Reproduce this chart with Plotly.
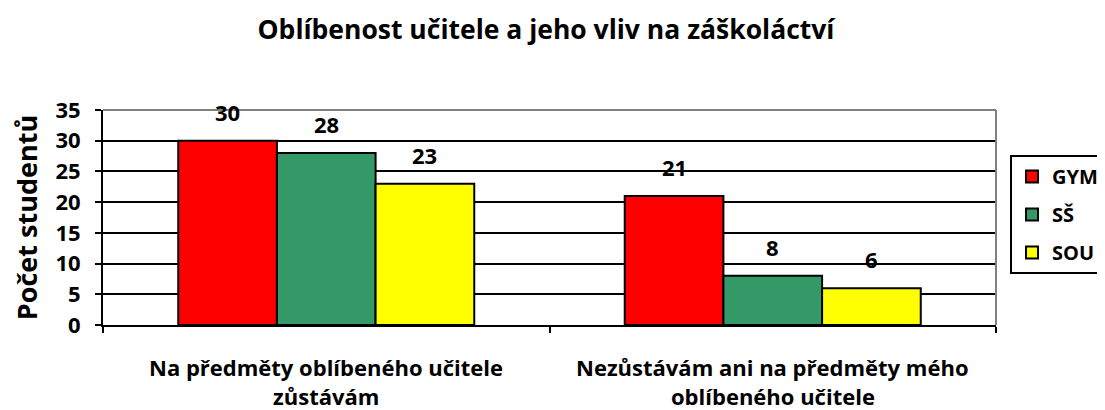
import plotly.graph_objects as go

# ---- data ----
categories = ["Na předměty oblíbeného učitele zůstávám",
              "Nezůstávám ani na předměty mého oblíbeného učitele"]
category_lines = [["Na předměty oblíbeného učitele", "zůstávám"],
                  ["Nezůstávám ani na předměty mého", "oblíbeného učitele"]]
series_names = ["GYM", "SŠ", "SOU"]
gym = [30, 21]
ss = [28, 8]
sou = [23, 6]
series_values = [gym, ss, sou]
series_colors = ["#FF0000", "#339966", "#FFFF00"]
y_ticks = [0, 5, 10, 15, 20, 25, 30, 35]

title_text = "Oblíbenost učitele a jeho vliv na záškoláctví"
y_title = "Počet studentů"

FONT = "Open Sans, Calibri, sans-serif"
BARGAP = 0.337
# the page body has an 8px default margin, so the figure is drawn 8px in
W, H = 1097, 402

fig = go.Figure()
for name, vals, col in zip(series_names, series_values, series_colors):
    fig.add_trace(go.Bar(
        x=categories, y=vals, name=name, legendgroup=name,
        marker=dict(color=col, line=dict(color="black", width=2)),
        hoverinfo="skip",
    ))

# data labels above bars
n = len(series_names)
w = (1 - BARGAP) / n
annotations = []
for j, vals in enumerate(series_values):
    for i, v in enumerate(vals):
        annotations.append(dict(
            x=i + (j - (n - 1) / 2) * w, y=v, xref="x", yref="y",
            text=str(v), showarrow=False, yanchor="middle", yshift=29,
            font=dict(family=FONT, size=22, color="black", weight="bold"),
        ))

# category labels (two lines each)
line_y = [-0.1953, -0.33]
for i, lines in enumerate(category_lines):
    for k, t in enumerate(lines):
        annotations.append(dict(
            x=i, y=line_y[k], xref="x", yref="paper", text=t,
            showarrow=False, yanchor="middle", xanchor="center",
            font=dict(family=FONT, size=22, color="black", weight="bold"),
        ))

fig.update_layout(
    width=W, height=H,
    margin=dict(l=95, r=109, t=102, b=85, autoexpand=False),
    paper_bgcolor="white", plot_bgcolor="white",
    barmode="group", bargap=BARGAP, bargroupgap=0,
    font=dict(family=FONT, color="black"),
    title=dict(text=title_text, x=538 / W, xref="container", xanchor="center",
               y=1 - 22 / H, yref="container", yanchor="middle",
               font=dict(family=FONT, size=26.5, color="black", weight="bold")),
    xaxis=dict(showticklabels=False, tickson="boundaries", ticks="outside",
               ticklen=6, tickwidth=2, tickcolor="black",
               showline=True, linecolor="black", linewidth=2,
               showgrid=False, fixedrange=True),
    yaxis=dict(range=[0, 35], tickvals=y_ticks, ticks="outside", ticklen=6,
               tickwidth=2, tickcolor="black", showline=True, linecolor="black",
               linewidth=2, showgrid=True, gridcolor="black", gridwidth=2,
               zeroline=False, ticklabelstandoff=10,
               tickfont=dict(family=FONT, size=22, color="black", weight="bold"),
               title=dict(text=y_title, standoff=16,
                          font=dict(family=FONT, size=27, color="black", weight="bold")),
               fixedrange=True),
    legend=dict(x=1.0157, y=0.791, xanchor="left", yanchor="top",
                bordercolor="black", borderwidth=2, bgcolor="white",
                tracegroupgap=9,
                font=dict(family=FONT, size=20, color="black", weight="bold")),
    annotations=annotations,
    shapes=[
        dict(type="line", xref="paper", yref="paper", x0=0, x1=1, y0=1, y1=1,
             line=dict(color="#808080", width=2), layer="above"),
        dict(type="line", xref="paper", yref="paper", x0=1, x1=1, y0=0, y1=1,
             line=dict(color="#808080", width=2), layer="above"),
    ],
)

fig.write_html("out.html")
